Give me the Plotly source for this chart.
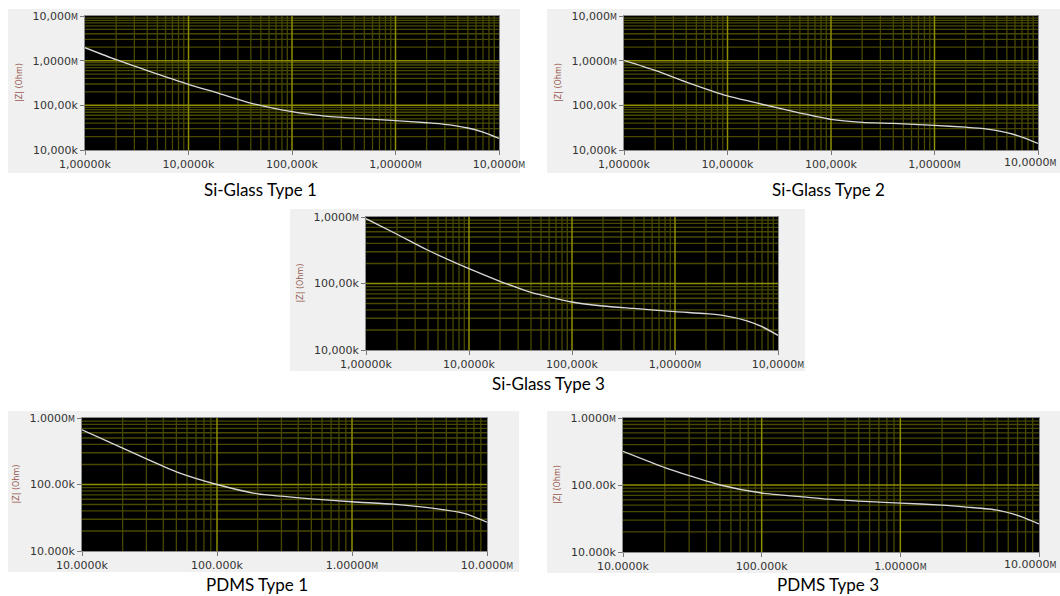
import plotly.graph_objects as go

W, H = 1060, 596

# Impedance sweeps: frequency in Hz, |Z| in Ohm
freq_glass = [1e3, 2e3, 4e3, 1e4, 2e4, 4e4, 1e5, 2e5, 4e5, 1e6, 2e6, 3e6, 5e6, 7e6, 1e7]
z_glass_1 = [1950000, 1050000, 600000, 295000, 183000, 112000, 72100, 58200, 51600,
             45400, 40700, 37600, 31100, 25100, 18200]
z_glass_2 = [1016000, 603000, 331000, 162000, 110000, 75900, 48600, 41700, 39400,
             35600, 32400, 30100, 24500, 19500, 14100]
z_glass_3 = [944000, 550000, 316000, 167000, 108000, 73500, 52700, 45900, 42200,
             37700, 35200, 33000, 27500, 22400, 16600]

freq_pdms = [1e4, 2e4, 3e4, 5e4, 1e5, 2e5, 3e5, 5e5, 1e6, 2e6, 3e6, 5e6, 7e6, 1e7]
z_pdms_1 = [665000, 352000, 243000, 155000, 100000, 72400, 66700, 61000, 55000,
            50700, 46900, 41200, 36300, 27200]
z_pdms_3 = [318000, 182000, 138000, 100000, 76000, 66500, 61400, 57500, 53800,
            50100, 46800, 42200, 35100, 26200]

# Decade tick labels (comma-decimal locale for the glass sweeps)
x_ticks_glass = ["1,00000k", "10,0000k", "100,000k", "1,00000M", "10,0000M"]
y_ticks_glass_3dec = ["10,000k", "100,00k", "1,0000M", "10,000M"]
y_ticks_glass_2dec = ["10,000k", "100,00k", "1,0000M"]
x_ticks_pdms = ["10.0000k", "100.000k", "1.00000M", "10.0000M"]
y_ticks_pdms = ["10.000k", "100.00k", "1.0000M"]

captions = ["Si-Glass Type 1", "Si-Glass Type 2", "Si-Glass Type 3", "PDMS Type 1", "PDMS Type 3"]

# panel layout in pixels: plot box (x0, y0, x1, y1), frame box, caption centre
panels = [
    dict(f=freq_glass, z=z_glass_1, xr=(3, 7), yr=(4, 7), xt=x_ticks_glass, yt=y_ticks_glass_3dec,
         box=(85, 16, 499, 150), frame=(8, 9, 520, 173), cap=(260, 189)),
    dict(f=freq_glass, z=z_glass_2, xr=(3, 7), yr=(4, 7), xt=x_ticks_glass, yt=y_ticks_glass_3dec,
         box=(624, 16, 1038, 150), frame=(547, 9, 1060, 173), cap=(828, 189)),
    dict(f=freq_glass, z=z_glass_3, xr=(3, 7), yr=(4, 6), xt=x_ticks_glass, yt=y_ticks_glass_2dec,
         box=(366, 217, 778, 350), frame=(290, 209, 805, 371), cap=(548, 383)),
    dict(f=freq_pdms, z=z_pdms_1, xr=(4, 7), yr=(4, 6), xt=x_ticks_pdms, yt=y_ticks_pdms,
         box=(82, 418, 487, 551), frame=(8, 411, 519, 572), cap=(257, 584)),
    dict(f=freq_pdms, z=z_pdms_3, xr=(4, 7), yr=(4, 6), xt=x_ticks_pdms, yt=y_ticks_pdms,
         box=(623, 418, 1039, 552), frame=(547, 411, 1060, 573), cap=(828, 584)),
]

MAJOR_GRID = "#8e8e00"
MINOR_GRID = "#484800"
FRAME_BG = "#f0f0f0"
TICK_FONT = dict(family="DejaVu Sans", size=11, color="#333333")
LABEL_HALF_WIDTH = 27  # approx. half width of the widest x tick label, px


def small_m(label):
    return label.replace("M", "<span style='font-size:8px'>M</span>")


def decades(lo, hi):
    return [10 ** d for d in range(lo, hi + 1)]


def minor_vals(lo, hi):
    return [k * 10 ** d for d in range(lo, hi) for k in range(2, 10)]


fig = go.Figure()
shapes = []
annotations = []


def grid_line(sfx, value, vertical, color, width):
    if vertical:
        return dict(type="line", xref=f"x{sfx}", yref=f"y{sfx} domain", layer="below",
                    x0=value, x1=value, y0=0, y1=1, line=dict(color=color, width=width))
    return dict(type="line", xref=f"x{sfx} domain", yref=f"y{sfx}", layer="below",
                x0=0, x1=1, y0=value, y1=value, line=dict(color=color, width=width))


for i, p in enumerate(panels, start=1):
    sfx = "" if i == 1 else str(i)
    x0, y0, x1, y1 = p["box"]
    fx0, fy0, fx1, fy1 = p["frame"]

    # light frame and black plotting field
    shapes.append(dict(type="rect", xref="paper", yref="paper", layer="below",
                       x0=fx0 / W, x1=fx1 / W, y0=1 - fy1 / H, y1=1 - fy0 / H,
                       fillcolor=FRAME_BG, line=dict(width=0)))
    shapes.append(dict(type="rect", xref=f"x{sfx} domain", yref=f"y{sfx} domain", layer="below",
                       x0=0, x1=1, y0=0, y1=1, fillcolor="#000000", line=dict(width=0)))

    # log grid: dim minor lines first, brighter decade lines on top
    for v in minor_vals(*p["xr"]):
        shapes.append(grid_line(sfx, v, True, MINOR_GRID, 1.3))
    for v in minor_vals(*p["yr"]):
        shapes.append(grid_line(sfx, v, False, MINOR_GRID, 1.3))
    for v in decades(*p["xr"])[1:-1]:
        shapes.append(grid_line(sfx, v, True, MAJOR_GRID, 1.5))
    for v in decades(*p["yr"])[1:-1]:
        shapes.append(grid_line(sfx, v, False, MAJOR_GRID, 1.5))

    fig.add_trace(go.Scatter(x=p["f"], y=p["z"], mode="lines", xaxis=f"x{sfx}", yaxis=f"y{sfx}",
                             line=dict(color="#d8d8d8", width=1.3, shape="spline", smoothing=0.6),
                             hoverinfo="skip", showlegend=False))

    # the last x label is pulled inside the page when it would run past the right edge
    xtext = [small_m(t) for t in p["xt"]]
    if x1 + LABEL_HALF_WIDTH > W:
        annotations.append(dict(text=xtext[-1], xref="paper", yref="paper",
                                x=(W - 1) / W, y=1 - (y1 + 12) / H, showarrow=False,
                                xanchor="right", yanchor="middle", font=TICK_FONT))
        xtext[-1] = ""

    common = dict(type="log", showgrid=False, zeroline=False,
                  ticks="outside", ticklen=4, tickcolor="#777777", tickwidth=1,
                  showline=True, linecolor="#8c8c8c", linewidth=1, mirror=True,
                  tickfont=TICK_FONT, fixedrange=True, automargin=False,
                  ticklabeloverflow="allow")

    fig.update_layout(**{
        f"xaxis{sfx}": dict(common, domain=[x0 / W, x1 / W], range=list(p["xr"]), anchor=f"y{sfx}",
                            tickmode="array", tickvals=decades(*p["xr"]), ticktext=xtext),
        f"yaxis{sfx}": dict(common, domain=[1 - y1 / H, 1 - y0 / H], range=list(p["yr"]), anchor=f"x{sfx}",
                            tickmode="array", tickvals=decades(*p["yr"]),
                            ticktext=[small_m(t) for t in p["yt"]]),
    })

    # rotated axis title
    annotations.append(dict(text="|Z| (Ohm)", xref="paper", yref="paper",
                            x=(x0 - 66) / W, y=1 - (y0 + y1) / 2 / H, showarrow=False, textangle=-90,
                            xanchor="center", yanchor="middle",
                            font=dict(family="DejaVu Sans", size=8, color="#96594f")))
    cx, cy = p["cap"]
    annotations.append(dict(text=captions[i - 1], xref="paper", yref="paper",
                            x=cx / W, y=1 - cy / H, showarrow=False, xanchor="center", yanchor="middle",
                            font=dict(family="Lato", size=17, color="#000000")))

fig.update_layout(template="none", width=W, height=H, autosize=False,
                  margin=dict(l=0, r=0, t=0, b=0, autoexpand=False),
                  paper_bgcolor="#ffffff", plot_bgcolor="rgba(0,0,0,0)",
                  shapes=shapes, annotations=annotations, showlegend=False)

fig.write_html("out.html")
